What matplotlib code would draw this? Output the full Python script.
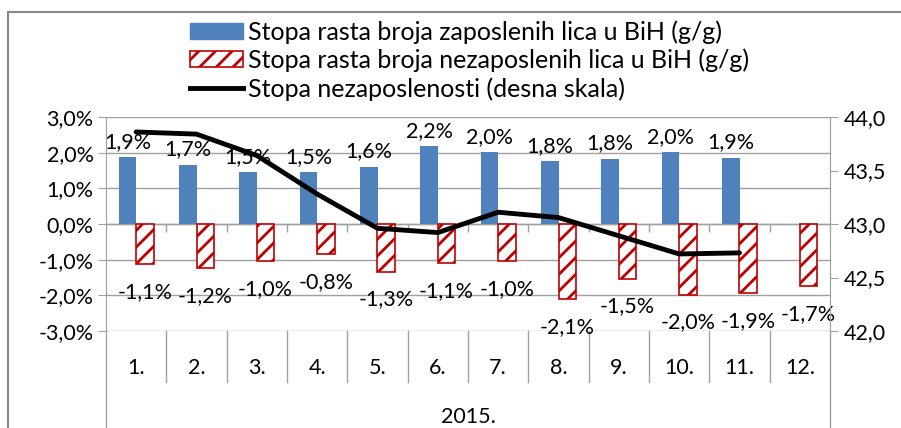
import matplotlib
matplotlib.use('Agg')
import matplotlib.pyplot as plt
import matplotlib.transforms as mtransforms
from matplotlib.patches import Patch, Rectangle
from matplotlib.lines import Line2D
import numpy as np

plt.rcParams['font.family'] = ['Lato', 'DejaVu Sans']
plt.rcParams['hatch.linewidth'] = 2.0
plt.rcParams['hatch.color'] = '#C00000'

# Data
months = ['1.', '2.', '3.', '4.', '5.', '6.', '7.', '8.', '9.', '10.', '11.', '12.']
year_label = '2015.'
employed_growth = [1.88, 1.66, 1.46, 1.46, 1.61, 2.19, 2.02, 1.76, 1.83, 2.02, 1.86, None]
unemployed_growth = [-1.13, -1.23, -1.04, -0.84, -1.34, -1.10, -1.04, -2.10, -1.53, -1.98, -1.94, -1.74]
unemployment_rate = [43.86, 43.84, 43.64, 43.28, 42.96, 42.92, 43.11, 43.06, 42.89, 42.72, 42.73, None]

left_ticks = [-3, -2, -1, 0, 1, 2, 3]
right_ticks = [42.0, 42.5, 43.0, 43.5, 44.0]

legend_labels = ['Stopa rasta broja zaposlenih lica u BiH (g/g)',
                 'Stopa rasta broja nezaposlenih lica u BiH (g/g)',
                 'Stopa nezaposlenosti (desna skala)']

BLUE = '#4F81BD'
RED = '#C00000'
GRID = '#A0A0A0'
FS = 15.5


def pct(v):
    return f"{v:.1f}%".replace('.', ',')


fig = plt.figure(figsize=(9.01, 4.28), dpi=100)
ax = fig.add_axes([106 / 901, 1 - 331 / 428, (830 - 106) / 901, (331 - 117) / 428])

x = np.arange(len(months))
w = 0.29

emp_x = [xi - w / 2 for xi, v in zip(x, employed_growth) if v is not None]
emp_v = [v for v in employed_growth if v is not None]
ax.bar(emp_x, emp_v, width=w, color=BLUE, zorder=3)
ax.bar(x + w / 2, unemployed_growth, width=w, color='white', edgecolor=RED,
       linewidth=1.2, hatch='//', zorder=3)

for xi, v in zip(emp_x, emp_v):
    ax.annotate(pct(v), (xi, v), xytext=(0, 11), textcoords='offset points',
                ha='center', va='center', fontsize=FS, zorder=5)
for xi, v in zip(x + w / 2, unemployed_growth):
    ax.annotate(pct(v), (xi, v), xytext=(0, -20), textcoords='offset points',
                ha='center', va='center', fontsize=FS, zorder=5)

ax.set_xlim(-0.5, len(months) - 0.5)
ax.set_ylim(-3, 3)
ax.set_yticks(left_ticks)
ax.set_yticklabels([pct(t) for t in left_ticks], fontsize=FS)
ax.set_xticks([])
ax.grid(axis='y', color=GRID, linewidth=1.0, zorder=0)
ax.set_axisbelow(True)
ax.tick_params(axis='y', direction='out', length=6, color=GRID, pad=3)
for s in ['top', 'bottom']:
    ax.spines[s].set_visible(False)
ax.spines['left'].set_color(GRID)
ax.spines['right'].set_color(GRID)

# category axis at zero with tick marks between months
ax.axhline(0, color=GRID, linewidth=1.0, zorder=2)
bounds = np.arange(len(months) + 1) - 0.5
ax.vlines(bounds[1:-1], -0.23, 0, color=GRID, linewidth=1.0, zorder=2)

# multi-level category labels below the plot
trans = mtransforms.blended_transform_factory(ax.transData, ax.transAxes)
for b in bounds[1:-1]:
    ax.plot([b, b], [0, -0.238], transform=trans, color=GRID, linewidth=1.0, clip_on=False)
for b in [bounds[0], bounds[-1]]:
    ax.plot([b, b], [0, -0.47], transform=trans, color=GRID, linewidth=1.0, clip_on=False)
for xi, m in zip(x, months):
    ax.text(xi, -0.172, m, transform=trans, ha='center', va='center', fontsize=FS)
ax.text((len(months) - 1) / 2, -0.40, year_label, transform=trans,
        ha='center', va='center', fontsize=FS)

ax2 = ax.twinx()
line_x = [xi for xi, v in zip(x, unemployment_rate) if v is not None]
line_v = [v for v in unemployment_rate if v is not None]
ax2.plot(line_x, line_v, color='black', linewidth=3.5, solid_capstyle='round', zorder=4)
ax2.set_ylim(42, 44)
ax2.set_yticks(right_ticks)
ax2.set_yticklabels([f"{t:.1f}".replace('.', ',') for t in right_ticks], fontsize=FS)
ax2.tick_params(axis='y', direction='out', length=6, color=GRID, pad=4)
for s in ['top', 'bottom', 'left']:
    ax2.spines[s].set_visible(False)
ax2.spines['right'].set_color(GRID)

handles = [Patch(facecolor=BLUE, edgecolor=BLUE),
           Patch(facecolor='white', edgecolor=RED, hatch='//', linewidth=1.2),
           Line2D([0], [0], color='black', linewidth=3.5)]
fig.legend(handles, legend_labels, loc='upper left', bbox_to_anchor=(190 / 901, 1 - 20 / 428),
           frameon=False, fontsize=18, borderaxespad=0, borderpad=0, handlelength=2.1,
           handleheight=0.62, handletextpad=0.2, labelspacing=0.2)

# outer chart frame
fig.patches.append(Rectangle((8 / 901, -0.05), 1.0, 1.05 - 12 / 428, transform=fig.transFigure,
                             fill=False, edgecolor='#888888', linewidth=1.5))

fig.savefig('out.png', dpi=100)
